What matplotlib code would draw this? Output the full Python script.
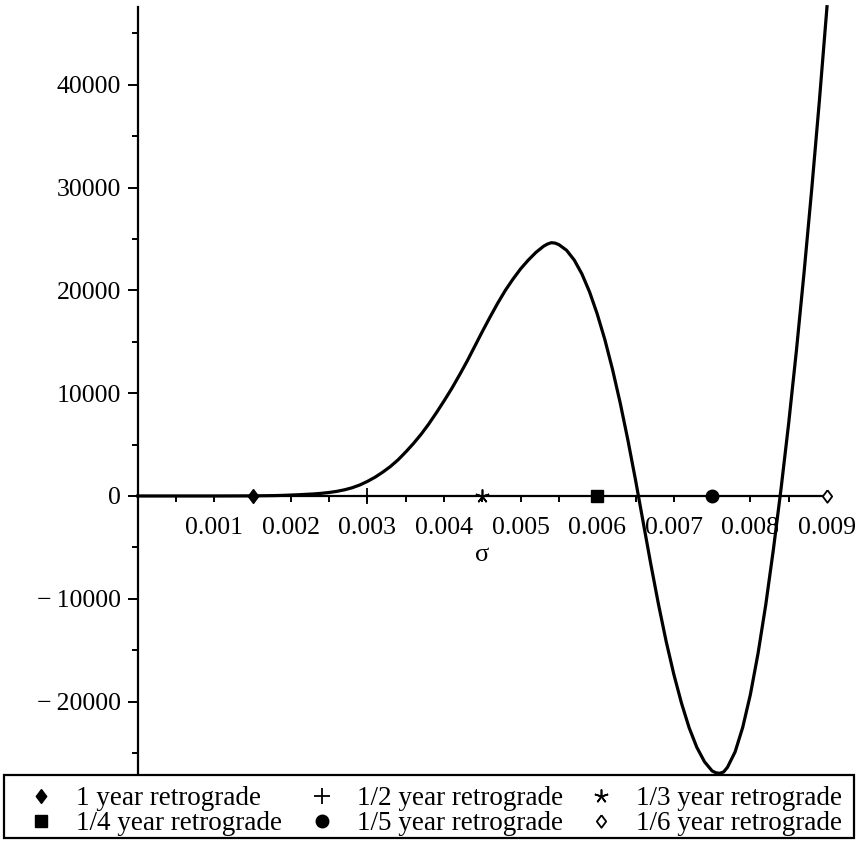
import matplotlib
matplotlib.use("Agg")
import matplotlib.pyplot as plt
from matplotlib.lines import Line2D
from matplotlib.patches import Rectangle
from matplotlib.ticker import FixedLocator, MultipleLocator

plt.rcParams['font.family'] = ['Liberation Serif', 'DejaVu Serif']

# ---- data ----
sigma = [0.0, 0.0005, 0.001, 0.0015, 0.0018, 0.0019, 0.002, 0.0021, 0.0022,
         0.0023, 0.0024, 0.0025, 0.0026, 0.0027, 0.0028, 0.0029, 0.003,
         0.0031, 0.0032, 0.0033, 0.0034, 0.0035, 0.0036, 0.0037, 0.0038,
         0.0039, 0.004, 0.0041, 0.0042, 0.0043, 0.0044, 0.0045, 0.0046,
         0.0047, 0.0048, 0.0049, 0.005, 0.0051, 0.0052, 0.0053, 0.00535,
         0.0054, 0.00545, 0.0055, 0.0056, 0.0057, 0.0058, 0.0059, 0.006,
         0.0061, 0.0062, 0.0063, 0.0064, 0.0065, 0.0066, 0.0067, 0.0068,
         0.0069, 0.007, 0.0071, 0.0072, 0.0073, 0.0074, 0.0075, 0.00755,
         0.0076, 0.00765, 0.0077, 0.0078, 0.0079, 0.008, 0.0081, 0.0082,
         0.0083, 0.0084, 0.0085, 0.0086, 0.0087, 0.0088, 0.0089, 0.009]
value = [0, 0, 0, 10, 40, 60, 90, 120, 160,
         200, 260, 340, 450, 600, 800, 1070, 1420,
         1830, 2320, 2870, 3520, 4280, 5100, 6000, 7000,
         8100, 9250, 10450, 11750, 13100, 14550, 16000, 17400,
         18750, 20000, 21100, 22100, 22950, 23700, 24300, 24510,
         24640, 24600, 24450, 23900, 22950, 21600, 19850, 17700,
         15200, 12300, 9050, 5450, 1550, -2550, -6650, -10550,
         -14150, -17350, -20150, -22550, -24450, -25850, -26750, -26930,
         -26980, -26850, -26400, -24900, -22500, -19300, -15300, -10600,
         -5200, 700, 7100, 14100, 21700, 29800, 38400, 47600]

marker_x = [0.0015, 0.003, 0.0045, 0.006, 0.0075, 0.009]
marker_y = [0, 0, 0, 0, 0, 0]
marker_labels = ["1 year retrograde", "1/2 year retrograde", "1/3 year retrograde",
                 "1/4 year retrograde", "1/5 year retrograde", "1/6 year retrograde"]

x_ticks = [0.001, 0.002, 0.003, 0.004, 0.005, 0.006, 0.007, 0.008, 0.009]
x_ticklabels = ["0.001", "0.002", "0.003", "0.004", "0.005", "0.006", "0.007", "0.008", "0.009"]
y_ticks = [-20000, -10000, 0, 10000, 20000, 30000, 40000]
y_ticklabels = ["\u2212\u200920000", "\u2212\u200910000", "0", "10000", "20000", "30000", "40000"]

xlim = (0.0, 0.009)
ylim = (-26980, 47600)

# ---- figure ----
W, H = 857, 841
fig = plt.figure(figsize=(W / 100, H / 100), dpi=100)
left = 137.7 / W
right = 827.0 / W
bottom = (H - 773.3) / H
top = (H - 6.7) / H
ax = fig.add_axes([left, bottom, right - left, top - bottom])

ax.plot(sigma, value, color='black', lw=2.3, clip_on=False, zorder=2,
        solid_joinstyle='round')

diamond = [(0, 1), (0.75, 0), (0, -1), (-0.75, 0), (0, 1)]
styles = [
    dict(marker=diamond, markersize=10, mfc='black', mec='black', mew=1),
    dict(marker='+', markersize=11, mfc='black', mec='black', mew=1.3),
    dict(marker=(5, 2, 0), markersize=10, mfc='black', mec='black', mew=1.2),
    dict(marker='s', markersize=8.5, mfc='black', mec='black', mew=1),
    dict(marker='o', markersize=9, mfc='black', mec='black', mew=1),
    dict(marker=diamond, markersize=9, mfc='white', mec='black', mew=1.3),
]
handles = []
for xv, yv, lab, st in zip(marker_x, marker_y, marker_labels, styles):
    ax.plot([xv], [yv], linestyle='none', clip_on=False, zorder=4, **st)
    handles.append(Line2D([], [], linestyle='none', label=lab, **st))

ax.set_xlim(*xlim)
ax.set_ylim(*ylim)

for s in ['top', 'right']:
    ax.spines[s].set_visible(False)
ax.spines['left'].set_position(('data', 0))
ax.spines['bottom'].set_position(('data', 0))
for s in ['left', 'bottom']:
    ax.spines[s].set_linewidth(1.6)
    ax.spines[s].set_zorder(3)

ax.xaxis.set_major_locator(FixedLocator(x_ticks))
ax.set_xticklabels(x_ticklabels)
ax.xaxis.set_minor_locator(MultipleLocator(0.0005))
ax.yaxis.set_major_locator(FixedLocator(y_ticks))
ax.set_yticklabels(y_ticklabels)
ax.yaxis.set_minor_locator(MultipleLocator(5000))

ax.tick_params(axis='x', which='both', direction='out', length=4, width=1.4,
               labelsize=18.5, pad=11)
ax.tick_params(axis='y', which='major', direction='out', length=7, width=1.4,
               labelsize=18.5, pad=5)
ax.tick_params(axis='y', which='minor', direction='out', length=4, width=1.4)

ax.annotate('σ', xy=(0.0045, 0), xytext=(0, -47), textcoords='offset points',
            ha='center', va='baseline', fontsize=19)

# ---- legend: framed box with three columns ----
box_x0, box_y0, box_x1, box_y1 = 4, 775, 854, 838   # pixel frame of the key
fig.add_artist(Rectangle((box_x0 / W, (H - box_y1) / H),
                         (box_x1 - box_x0) / W, (box_y1 - box_y0) / H,
                         transform=fig.transFigure, fill=False,
                         edgecolor='black', linewidth=1.6))
col_start_px = [27.5, 308.5, 587.5]
columns = [[0, 3], [1, 4], [2, 5]]
for cx, idx in zip(col_start_px, columns):
    fig.legend([handles[i] for i in idx], [marker_labels[i] for i in idx],
               loc='upper left', bbox_to_anchor=(cx / W, (H - 786) / H),
               ncol=1, fontsize=19.5, frameon=False, handlelength=1.0,
               handletextpad=0.79, borderpad=0, labelspacing=0.0,
               borderaxespad=0)

fig.savefig('out.png', dpi=100)
